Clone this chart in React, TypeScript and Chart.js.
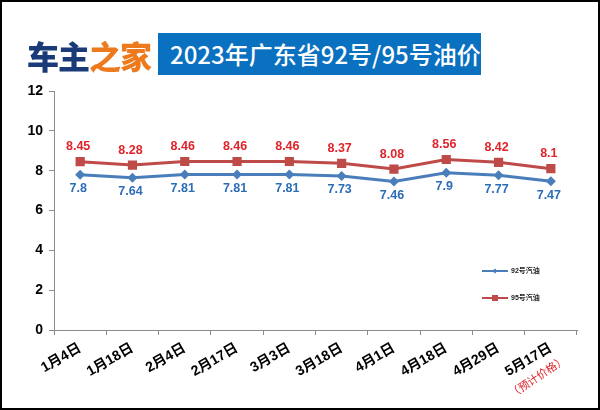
import React, { useEffect, useRef } from 'react';
import { Chart, registerables } from 'chart.js';

Chart.register(...registerables);

const categories = ['1月4日', '1月18日', '2月4日', '2月17日', '3月3日', '3月18日', '4月1日', '4月18日', '4月29日', '5月17日'];
const price92 = [7.8, 7.64, 7.81, 7.81, 7.81, 7.73, 7.46, 7.9, 7.77, 7.47];
const price95 = [8.45, 8.28, 8.46, 8.46, 8.46, 8.37, 8.08, 8.56, 8.42, 8.1];
const seriesNames = ['92号汽油', '95号汽油'];
const yMin = 0;
const yMax = 12;
const yStep = 2;
const forecastNote = '（预计价格）';
const titleText = '2023年广东省92号/95号油价';

const FONT = 'Arial, "Liberation Sans", "Noto Sans CJK SC", sans-serif';
const BLUE_LINE = '#4A7EBB';
const RED_LINE = '#BE4B48';
const BLUE_TEXT = '#2C6DB8';
const RED_TEXT = '#E0242B';

const dataLabels = {
  id: 'dataLabels',
  afterDatasetsDraw(chart: any) {
    const ctx = chart.ctx;
    chart.data.datasets.forEach((ds: any, i: number) => {
      const meta = chart.getDatasetMeta(i);
      ctx.save();
      ctx.font = 'bold 12.5px ' + FONT;
      ctx.fillStyle = i === 0 ? BLUE_TEXT : RED_TEXT;
      ctx.textAlign = 'center';
      ctx.textBaseline = 'middle';
      meta.data.forEach((pt: any, j: number) => {
        const dy = i === 0 ? 14 : -15;
        ctx.fillText(String(ds.data[j]), pt.x - 2, pt.y + dy);
      });
      ctx.restore();
    });
  },
};

const customLegend = {
  id: 'customLegend',
  afterDraw(chart: any) {
    const ctx = chart.ctx;
    const area = chart.chartArea;
    const x0 = area.right - 95;
    const items = [
      { y: area.bottom - 59, color: BLUE_LINE, style: 'diamond' },
      { y: area.bottom - 32, color: RED_LINE, style: 'square' },
    ];
    items.forEach((it, i) => {
      ctx.save();
      ctx.strokeStyle = it.color;
      ctx.lineWidth = 2;
      ctx.beginPath();
      ctx.moveTo(x0, it.y);
      ctx.lineTo(x0 + 26, it.y);
      ctx.stroke();
      ctx.fillStyle = it.color;
      const cx = x0 + 13;
      if (it.style === 'diamond') {
        ctx.beginPath();
        ctx.moveTo(cx - 2.5, it.y);
        ctx.lineTo(cx, it.y - 2.5);
        ctx.lineTo(cx + 2.5, it.y);
        ctx.lineTo(cx, it.y + 2.5);
        ctx.closePath();
        ctx.fill();
      } else {
        ctx.fillRect(cx - 3, it.y - 3, 6, 6);
      }
      ctx.fillStyle = '#222';
      ctx.font = 'bold 7px ' + FONT;
      ctx.textAlign = 'left';
      ctx.textBaseline = 'middle';
      ctx.fillText(seriesNames[i], x0 + 29, it.y);
      ctx.restore();
    });
  },
};

const forecastLabel = {
  id: 'forecastLabel',
  afterDraw(chart: any) {
    const ctx = chart.ctx;
    const xs = chart.scales.x;
    const x = xs.getPixelForValue(categories.length - 1);
    const y = xs.top + 15;
    ctx.save();
    ctx.translate(x + 5, y);
    ctx.rotate(-34 * Math.PI / 180);
    ctx.font = '11px ' + FONT;
    ctx.fillStyle = RED_TEXT;
    ctx.textAlign = 'right';
    ctx.textBaseline = 'middle';
    ctx.fillText(forecastNote, 0, 17);
    ctx.restore();
  },
};

export default function App() {
  const ref = useRef<HTMLCanvasElement>(null);

  useEffect(() => {
    if (!ref.current) return;
    const chart = new Chart(ref.current, {
      type: 'line',
      data: {
        labels: categories,
        datasets: [
          {
            label: seriesNames[0],
            data: price92,
            borderColor: BLUE_LINE,
            backgroundColor: BLUE_LINE,
            borderWidth: 3,
            pointStyle: 'rectRot',
            pointRadius: 5,
            pointBorderWidth: 0,
            tension: 0,
          },
          {
            label: seriesNames[1],
            data: price95,
            borderColor: RED_LINE,
            backgroundColor: RED_LINE,
            borderWidth: 3,
            pointStyle: 'rect',
            pointRadius: 6.5,
            pointBorderWidth: 0,
            tension: 0,
          },
        ],
      },
      options: {
        animation: false,
        responsive: false,
        devicePixelRatio: 1,
        layout: { padding: { top: 91, right: 23, left: 0, bottom: 0 } },
        plugins: {
          legend: { display: false },
          tooltip: { enabled: false },
          title: { display: false },
        },
        scales: {
          x: {
            offset: true,
            grid: { offset: true, drawOnChartArea: false, drawTicks: true, tickLength: 5, color: '#8c8c8c' },
            border: { color: '#8c8c8c', width: 1 },
            ticks: {
              autoSkip: false,
              minRotation: 30,
              maxRotation: 30,
              color: '#000',
              padding: 5,
              font: { family: FONT, size: 14, weight: 'bold' },
            },
            afterFit: (s: any) => { s.height = 80; },
          },
          y: {
            min: yMin,
            max: yMax,
            grid: { drawOnChartArea: false, drawTicks: true, tickLength: 5, color: '#8c8c8c' },
            border: { color: '#8c8c8c', width: 1 },
            ticks: {
              stepSize: yStep,
              color: '#000',
              padding: 6,
              font: { family: FONT, size: 14, weight: 'bold' },
            },
            afterFit: (s: any) => { s.width = 54; },
          },
        },
      },
      plugins: [dataLabels, customLegend, forecastLabel],
    });
    return () => chart.destroy();
  }, []);

  return (
    <div style={{ position: 'fixed', left: 0, top: 0, width: 600, height: 410, background: '#fff', overflow: 'hidden' }}>
      <canvas ref={ref} width={600} height={410} style={{ position: 'absolute', left: 0, top: 0, width: 600, height: 410 }} />
      <div
        style={{
          position: 'absolute', left: 27, top: 34, height: 42, lineHeight: '42px',
          fontFamily: '"Noto Sans CJK SC", sans-serif', fontWeight: 900, fontSize: 32,
          letterSpacing: -1,
        }}
      >
        <span style={{ color: '#1B3A78' }}>车主</span>
        <span style={{ color: '#EE7A1E' }}>之家</span>
      </div>
      <div
        style={{
          position: 'absolute', left: 158, top: 33, width: 323, height: 42, background: '#0A70C0',
          color: '#fff', fontFamily: '"Noto Sans CJK SC", sans-serif', fontSize: 24, fontWeight: 500, lineHeight: '42px',
          paddingLeft: 12, boxSizing: 'border-box', whiteSpace: 'nowrap',
        }}
      >
        {titleText}
      </div>
      <div style={{ position: 'absolute', left: 0, top: 0, width: 600, height: 410, border: '2px solid #000', boxSizing: 'border-box', pointerEvents: 'none' }} />
    </div>
  );
}
